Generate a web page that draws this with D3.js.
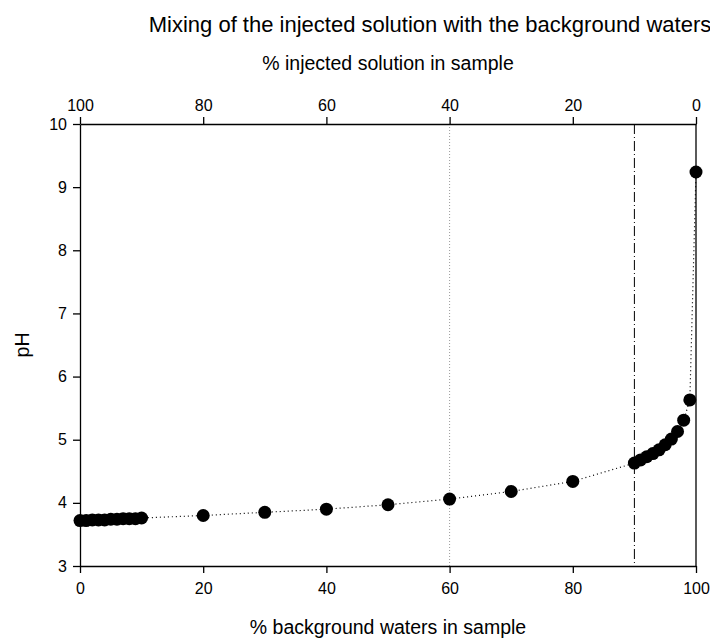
<!DOCTYPE html>
<html>
<head>
<meta charset="utf-8">
<script src="https://cdn.jsdelivr.net/npm/d3@7"></script>
<style>
  html, body { margin: 0; padding: 0; background: #fff; }
  svg text { font-family: "Liberation Sans", Arial, sans-serif; fill: #000; }
</style>
</head>
<body>
<svg id="chart" width="710" height="638"></svg>
<script>
// % background water in each mixed sample and the resulting pH
const backgroundPct = [0, 1, 2, 3, 4, 5, 6, 7, 8, 9, 10,
  20, 30, 40, 50, 60, 70, 80,
  90, 91, 92, 93, 94, 95, 96, 97, 98, 99, 100];
const pH = [3.72, 3.72, 3.73, 3.73, 3.73, 3.74, 3.74, 3.75, 3.75, 3.75, 3.76,
  3.80, 3.85, 3.90, 3.97, 4.06, 4.18, 4.34,
  4.63, 4.68, 4.73, 4.78, 4.84, 4.92, 5.01, 5.13, 5.31, 5.63, 9.24];

const bottomTicks = [0, 20, 40, 60, 80, 100];
const topTicks = [100, 80, 60, 40, 20, 0];   // % injected solution = 100 - background
const yTicks = [3, 4, 5, 6, 7, 8, 9, 10];
const dottedRefAt = 60;     // grey dotted reference line (background %)
const dashDotRefAt = 90;    // dash-dot reference line (background %)

const svg = d3.select("#chart");
const margin = { left: 80, right: 14, top: 124, bottom: 72 };
const W = 710, H = 638;

const x = d3.scaleLinear().domain([0, 100]).range([margin.left, W - margin.right]);
const xTop = d3.scaleLinear().domain([100, 0]).range([margin.left, W - margin.right]);
const y = d3.scaleLinear().domain([3, 10]).range([H - margin.bottom, margin.top]);

// reference lines
svg.append("line")
  .attr("x1", x(dottedRefAt)).attr("x2", x(dottedRefAt))
  .attr("y1", y(10)).attr("y2", y(3))
  .attr("stroke", "#9a9a9a").attr("stroke-width", 1)
  .attr("stroke-dasharray", "1,2");
svg.append("line")
  .attr("x1", x(dashDotRefAt)).attr("x2", x(dashDotRefAt))
  .attr("y1", y(10)).attr("y2", y(3))
  .attr("stroke", "#000").attr("stroke-width", 1)
  .attr("stroke-dasharray", "10,3,1,3");

// axes
const axisStyle = g => {
  g.selectAll("path, line").attr("stroke", "#000").attr("stroke-width", 1.3);
  g.selectAll("text").attr("font-size", 16).attr("font-family", "Liberation Sans, Arial, sans-serif");
};
const fmt = d3.format("d");

svg.append("g")
  .attr("transform", `translate(0,${y(3)})`)
  .call(d3.axisBottom(x).tickValues(bottomTicks).tickFormat(fmt).tickSize(7).tickPadding(10).tickSizeOuter(0))
  .call(axisStyle);

svg.append("g")
  .attr("transform", `translate(0,${y(10)})`)
  .call(d3.axisTop(xTop).tickValues(topTicks).tickFormat(fmt).tickSize(7).tickPadding(6).tickSizeOuter(0))
  .call(axisStyle);

svg.append("g")
  .attr("transform", `translate(${x(0)},0)`)
  .call(d3.axisLeft(y).tickValues(yTicks).tickFormat(fmt).tickSize(7).tickPadding(6).tickSizeOuter(0))
  .call(axisStyle);

svg.append("line")
  .attr("x1", x(100)).attr("x2", x(100))
  .attr("y1", y(10)).attr("y2", y(3))
  .attr("stroke", "#000").attr("stroke-width", 1.3);

// connecting dotted curve
const pts = backgroundPct.map((b, i) => [b, pH[i]]);
svg.append("path")
  .datum(pts)
  .attr("fill", "none")
  .attr("stroke", "#000")
  .attr("stroke-width", 1.2)
  .attr("stroke-dasharray", "1,3")
  .attr("d", d3.line().x(d => x(d[0])).y(d => y(d[1])));

// sample points
svg.append("g").selectAll("circle")
  .data(pts)
  .join("circle")
  .attr("cx", d => x(d[0]))
  .attr("cy", d => y(d[1]))
  .attr("r", 6.5)
  .attr("fill", "#000");

// titles
const cx = (x(0) + x(100)) / 2;
svg.append("text")
  .attr("x", 430).attr("y", 32)
  .attr("text-anchor", "middle").attr("font-size", 22)
  .text("Mixing of the injected solution with the background waters");
svg.append("text")
  .attr("x", cx).attr("y", 70)
  .attr("text-anchor", "middle").attr("font-size", 19.5)
  .text("% injected solution in sample");
svg.append("text")
  .attr("x", cx).attr("y", 634)
  .attr("text-anchor", "middle").attr("font-size", 19.5)
  .text("% background waters in sample");
svg.append("text")
  .attr("transform", `translate(29,${(y(3) + y(10)) / 2}) rotate(-90)`)
  .attr("text-anchor", "middle").attr("font-size", 19.5)
  .text("pH");
</script>
</body>
</html>
